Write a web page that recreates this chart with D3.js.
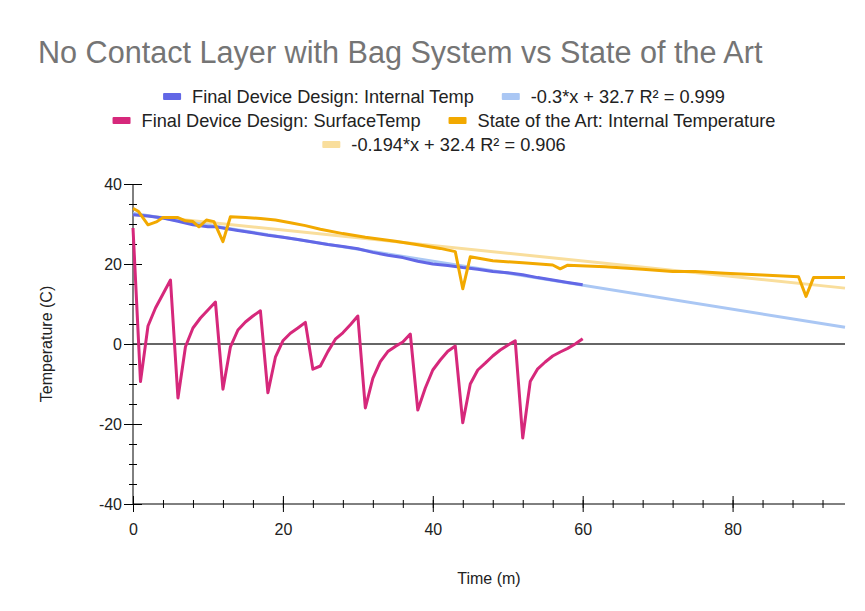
<!DOCTYPE html>
<html>
<head>
<meta charset="utf-8">
<script src="https://cdn.jsdelivr.net/npm/d3@7"></script>
<style>
  body { margin: 0; background: #fff; }
  text { font-family: "Liberation Sans", Arial, sans-serif; }
</style>
</head>
<body>
<svg id="chart"></svg>
<script>
// Final Device Design: Internal Temp
let blueTime = [0, 2, 4, 6, 8, 10, 11, 12, 14, 16, 18, 20, 22, 24, 26, 28, 30, 32, 34, 36, 38, 40, 42, 44, 46, 48, 50, 52, 54, 56, 58, 60];
let blueTemp = [32.3, 32.0, 31.5, 30.7, 29.8, 29.3, 29.3, 29.0, 28.4, 27.8, 27.2, 26.7, 26.1, 25.5, 24.9, 24.4, 23.8, 22.9, 22.2, 21.6, 20.7, 20.0, 19.6, 19.1, 18.7, 18.1, 17.8, 17.3, 16.6, 16.0, 15.4, 14.8];

// Final Device Design: SurfaceTemp (one reading per minute)
let pinkTime = d3.range(0, 61);
let pinkTemp = [29, -9.4, 4.5, 9, 12.5, 16, -13.5, -0.7, 4, 6.5,
                8.5, 10.5, -11.3, -0.7, 3.5, 5.5, 7, 8.3, -12.2, -3.3,
                0.8, 2.7, 4, 5.4, -6.3, -5.5, -1.9, 1.2, 2.8, 4.8,
                7, -16, -8.6, -4.4, -1.9, -0.6, 0.5, 2.5, -16.5, -11,
                -6.5, -4, -1.8, -0.5, -19.7, -10, -6.5, -4.8, -3, -1.5,
                -0.3, 0.8, -23.5, -9.4, -6.2, -4.5, -3, -2, -1.1, 0, 1.3];

// State of the Art: Internal Temperature
let orangeTime = [0, 0.7, 2, 3.2, 4, 6, 7, 8, 8.8, 9.8, 10.8, 12, 13, 15, 17, 19, 21, 23, 25, 28, 31, 35, 38, 41, 43, 44, 45, 48, 52, 56, 57, 58, 63, 68, 72, 75, 79, 84, 88.8, 89.8, 90.8, 95];
let orangeTemp = [33.9, 33.2, 29.8, 30.6, 31.6, 31.6, 30.8, 30.6, 29.3, 31.0, 30.6, 25.6, 31.8, 31.6, 31.4, 31.0, 30.3, 29.6, 28.7, 27.6, 26.7, 25.7, 24.8, 23.9, 23.1, 13.8, 21.8, 20.8, 20.3, 19.75, 18.8, 19.7, 19.3, 18.7, 18.1, 18.1, 17.7, 17.25, 16.8, 11.9, 16.6, 16.6];

// trendlines: slope, intercept
let blueTrend = [-0.3, 32.7];
let orangeTrend = [-0.194, 32.4];

let xMajor = [0, 20, 40, 60, 80];
let yMajor = [-40, -20, 0, 20, 40];

let legendRows = [
  [["Final Device Design: Internal Temp", "#6267e6"], ["-0.3*x + 32.7 R\u00b2 = 0.999", "#aac7f4"]],
  [["Final Device Design: SurfaceTemp", "#d6287b"], ["State of the Art: Internal Temperature", "#f2a900"]],
  [["-0.194*x + 32.4 R\u00b2 = 0.906", "#f9de9c"]]
];

let width = 865, height = 611;
let svg = d3.select("#chart").attr("width", width).attr("height", height);

let xScale = d3.scaleLinear([0, 95], [133, 845]);
let yScale = d3.scaleLinear([-40, 40], [504, 184]);

// title
svg.append("text")
  .attr("x", 38).attr("y", 63)
  .attr("font-size", 30.6)
  .attr("fill", "#757575")
  .text("No Contact Layer with Bag System vs State of the Art");

// legend
let rowY = [97, 121, 145];
legendRows.forEach(function(row, r){
  let g = svg.append("g");
  let cx = 0;
  row.forEach(function(item, i){
    if (i > 0) cx += 28;
    g.append("rect")
      .attr("x", cx).attr("y", -4)
      .attr("width", 18).attr("height", 7)
      .attr("rx", 1)
      .attr("fill", item[1]);
    let t = g.append("text")
      .attr("x", cx + 29).attr("y", 0)
      .attr("dy", "0.35em")
      .attr("font-size", 18.2)
      .attr("fill", "#222")
      .text(item[0]);
    cx += 29 + t.node().getComputedTextLength();
  });
  g.attr("transform", "translate(" + (444 - cx / 2) + "," + rowY[r] + ")");
});

// axes
let fmt = function(d){ return String(d); };
let yAxis = svg.append("g")
  .attr("transform", "translate(" + xScale(0) + ",0)")
  .call(d3.axisLeft(yScale).tickValues(yMajor).tickSize(9).tickPadding(2).tickFormat(fmt));
let yMinor = svg.append("g")
  .attr("transform", "translate(" + xScale(0) + ",0)")
  .call(d3.axisLeft(yScale).tickValues(d3.range(-40, 41, 5)).tickSize(4).tickFormat(""));
let xAxis = svg.append("g")
  .attr("transform", "translate(0," + yScale(-40) + ")")
  .call(d3.axisBottom(xScale).tickValues(xMajor).tickSize(8).tickPadding(12).tickFormat(fmt));
let xMinor = svg.append("g")
  .attr("transform", "translate(0," + yScale(-40) + ")")
  .call(d3.axisBottom(xScale).tickValues(d3.range(0, 95, 4)).tickSize(4).tickFormat(""));

[yAxis, yMinor, xAxis, xMinor].forEach(function(a){
  a.select(".domain").remove();
  a.selectAll("text").attr("font-size", 16).attr("fill", "#222").attr("font-family", "Liberation Sans, Arial, sans-serif");
  a.selectAll("line").attr("stroke", "#000");
});
// ticks cross the axis line
yAxis.selectAll(".tick line").attr("x1", 9);
yMinor.selectAll(".tick line").attr("x1", 4);
xAxis.selectAll(".tick line").attr("y1", -8);
xMinor.selectAll(".tick line").attr("y1", -4);

svg.append("line")
  .attr("x1", xScale(0)).attr("x2", xScale(95))
  .attr("y1", yScale(-40)).attr("y2", yScale(-40))
  .attr("stroke", "#000");
svg.append("line")
  .attr("x1", xScale(0)).attr("x2", xScale(95))
  .attr("y1", yScale(0)).attr("y2", yScale(0))
  .attr("stroke", "#333").attr("stroke-width", 1.3);
svg.append("line")
  .attr("x1", xScale(0)).attr("x2", xScale(0))
  .attr("y1", yScale(-40)).attr("y2", yScale(40))
  .attr("stroke", "#000");

// axis titles
svg.append("text")
  .attr("x", (xScale(0) + xScale(95)) / 2).attr("y", 584)
  .attr("text-anchor", "middle")
  .attr("font-size", 16).attr("fill", "#222")
  .text("Time (m)");
svg.append("text")
  .attr("transform", "translate(52," + yScale(0) + ") rotate(-90)")
  .attr("text-anchor", "middle")
  .attr("font-size", 16).attr("fill", "#222")
  .text("Temperature (C)");

// lines
let line = d3.line()
  .x(function(d){ return xScale(d[0]); })
  .y(function(d){ return yScale(d[1]); });
let plot = svg.append("g");

function trend(tr){
  return [[0, tr[1]], [95, tr[0] * 95 + tr[1]]];
}
plot.append("path").datum(trend(orangeTrend))
  .attr("d", line).attr("fill", "none")
  .attr("stroke", "#f9de9c").attr("stroke-width", 3);
plot.append("path").datum(trend(blueTrend))
  .attr("d", line).attr("fill", "none")
  .attr("stroke", "#aac7f4").attr("stroke-width", 3);

let series = [
  [blueTime, blueTemp, "#6267e6"],
  [orangeTime, orangeTemp, "#f2a900"],
  [pinkTime, pinkTemp, "#d6287b"]
];
series.forEach(function(s){
  plot.append("path")
    .datum(d3.zip(s[0], s[1]))
    .attr("d", line)
    .attr("fill", "none")
    .attr("stroke", s[2])
    .attr("stroke-width", 3)
    .attr("stroke-linejoin", "round");
});
</script>
</body>
</html>
